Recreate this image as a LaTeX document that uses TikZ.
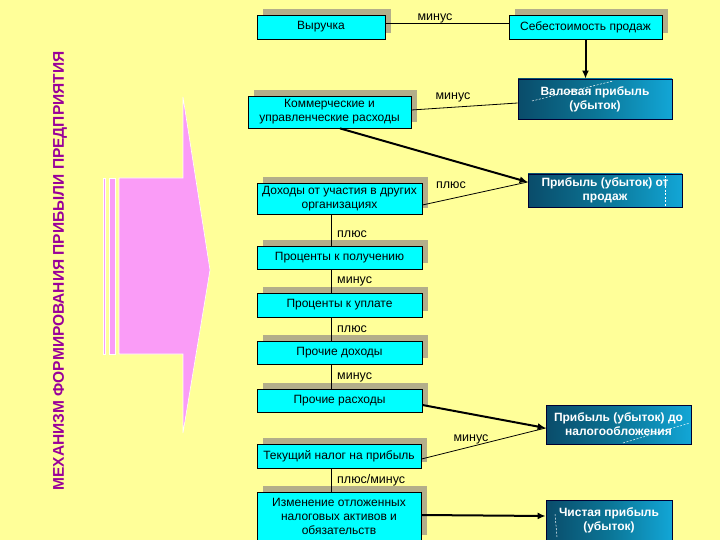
\documentclass[tikz,border=0pt]{standalone}
\usepackage{fontspec}
\setmainfont{Liberation Sans}
\usetikzlibrary{shadows,arrows.meta}
\definecolor{bg}{HTML}{FFFF99}
\definecolor{cy}{HTML}{00FFFF}
\definecolor{shd}{HTML}{B3AE8A}
\definecolor{pinkc}{HTML}{FA9CF7}
\definecolor{titlec}{HTML}{990099}
\definecolor{darkl}{HTML}{0A4C6A}
\definecolor{darkm}{HTML}{0B7596}
\definecolor{darkr}{HTML}{12A6D6}
\tikzset{
  cbox/.style={draw=black, line width=0.8pt, fill=cy, inner sep=0pt, align=center,
    font=\fontsize{12}{14}\selectfont,
    general shadow={fill=shd, shadow xshift=6pt, shadow yshift=6pt}},
  dbox/.style={draw=black!80!blue, line width=0.8pt, left color=darkl, right color=darkr,
    middle color=darkm, inner sep=0pt, align=center, text=white,
    font=\bfseries\fontsize{12}{14}\selectfont},
  thin/.style={line width=0.8pt},
  thick arrow/.style={line width=2pt, -{Latex[length=8pt,width=7pt]}},
  lbl/.style={font=\fontsize{12.5}{14}\selectfont, inner sep=0pt},
  spark/.style={white, line width=0.5pt, dash pattern=on 2pt off 1.5pt}
}
\begin{document}
\begin{tikzpicture}[x=1pt,y=-1pt]
\fill[bg] (0,0) rectangle (720,540);
\useasboundingbox (0,0) rectangle (720,540);

% pink block arrow
\begin{scope}[draw=white, line width=0.6pt]
\filldraw[fill=pinkc] (103,178) rectangle (105.5,354);
\filldraw[fill=pinkc] (109,178) rectangle (115.5,354);
\filldraw[fill=pinkc] (119,178) -- (183,178) -- (183,97) -- (210,270) -- (183,433) -- (183,354) -- (119,354) -- cycle;
\end{scope}

% title
\node[rotate=90, text=titlec, font=\bfseries\fontsize{15.5}{17}\selectfont] (title) at (60,271)
  {МЕХАНИЗМ ФОРМИРОВАНИЯ ПРИБЫЛИ ПРЕДПРИЯТИЯ};

% left column boxes
\node[cbox, minimum width=128pt, minimum height=24pt] (v) at (321,27) {Выручка};
\node[cbox, minimum width=163pt, minimum height=32pt] (k) at (329.5,112) {Коммерческие и\\управленческие расходы};
\node[cbox, minimum width=165pt, minimum height=31pt] (d) at (339.5,198.5) {Доходы от участия в других\\организациях};
\node[cbox, minimum width=165pt, minimum height=23pt] (pp) at (339.5,257.5) {Проценты к получению};
\node[cbox, minimum width=165pt, minimum height=24pt] (pu) at (339.5,305) {Проценты к уплате};
\node[cbox, minimum width=165pt, minimum height=23pt] (pd) at (339.5,352.5) {Прочие доходы};
\node[cbox, minimum width=165pt, minimum height=23pt] (pr) at (339.5,400.5) {Прочие расходы};
\node[cbox, minimum width=164pt, minimum height=24pt] (tn) at (339,456) {Текущий налог на прибыль};
\node[cbox, minimum width=164pt, minimum height=49pt] (iz) at (339,516.5) {Изменение отложенных\\налоговых активов и\\обязательств};

% right column
\node[cbox, minimum width=153pt, minimum height=24pt] (s) at (585.5,27) {Себестоимость продаж};
\node[dbox, minimum width=154pt, minimum height=40pt] (vp) at (595,99) {Валовая прибыль\\(убыток)};
\node[dbox, minimum width=154pt, minimum height=33pt] (ps) at (605,190.5) {Прибыль (убыток) от\\продаж};
\node[dbox, minimum width=145pt, minimum height=39pt] (pn) at (618.5,424.5) {Прибыль (убыток) до\\налогообложения};
\node[dbox, minimum width=126pt, minimum height=40pt] (ch) at (609,520) {Чистая прибыль\\(убыток)};

% sparkles
\draw[spark] (532,101) -- (613,81);
\draw[spark] (665,176) -- (665,206);
\draw[spark] (623,443) -- (690,423);
\draw[spark] (557,537) -- (555,514);

% vertical links in left column
\draw[thin] ([xshift=-8.5pt]d.south) -- ([xshift=-8.5pt]pp.north);
\draw[thin] ([xshift=-8.5pt]pp.south) -- ([xshift=-8.5pt]pu.north);
\draw[thin] ([xshift=-8.5pt]pu.south) -- ([xshift=-8.5pt]pd.north);
\draw[thin] ([xshift=-8.5pt]pd.south) -- ([xshift=-8.5pt]pr.north);
\draw[thin] ([xshift=-8pt]tn.south) -- ([xshift=-8pt]iz.north);

\node[lbl, anchor=west] (l1) at (337,234) {плюс};
\node[lbl, anchor=west] (l2) at (337,281) {минус};
\node[lbl, anchor=west] (l3) at (337,329) {плюс};
\node[lbl, anchor=west] (l4) at (337,377) {минус};
\node[lbl, anchor=west] (l5) at (337,480) {плюс/минус};

% top links
\draw[thin] ([yshift=4pt]v.east) -- ([yshift=4pt]s.west);
\node[lbl] (m1) at (435,18) {минус};
\draw[thick arrow] (s.south) -- (s.south |- vp.north);

\draw[thin] ([yshift=2pt]k.east) -- ([yshift=-4pt]vp.west);
\node[lbl] (m2) at (453,97) {минус};

\coordinate (pstip) at ([yshift=8.5pt]ps.west);
\draw[thick arrow] ([xshift=10.5pt]k.south) -- (pstip);
\draw[thin] ([yshift=-6.5pt]d.east) -- (pstip);
\node[lbl] (p1) at (451,185) {плюс};

\coordinate (pntip) at ([yshift=-3.5pt]pn.west);
\draw[thick arrow] ([yshift=-4.5pt]pr.east) -- (pntip);
\draw[thin] ([yshift=-3pt]tn.east) -- (pntip);
\node[lbl] (m3) at (471,439) {минус};

\draw[thick arrow] ([yshift=1.5pt]iz.east) -- ([yshift=4pt]ch.west);
\end{tikzpicture}
\end{document}
